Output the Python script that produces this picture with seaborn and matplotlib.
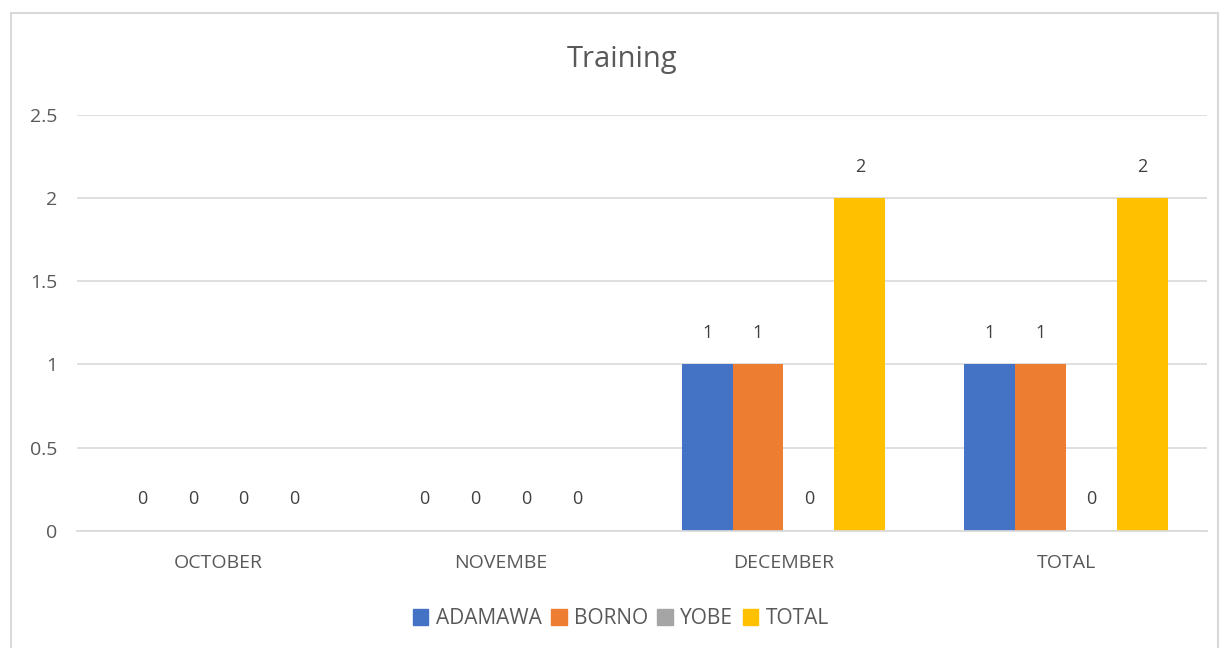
import pandas as pd
import matplotlib.pyplot as plt
import seaborn as sns
from matplotlib.patches import Rectangle

months = ["OCTOBER", "NOVEMBE", "DECEMBER", "TOTAL"]
states = ["ADAMAWA", "BORNO", "YOBE", "TOTAL"]
adamawa = [0, 0, 1, 1]
borno = [0, 0, 1, 1]
yobe = [0, 0, 0, 0]
total = [0, 0, 2, 2]
colors = ["#4472C4", "#ED7D31", "#A5A5A5", "#FFC000"]

rows = []
for state, vals in zip(states, [adamawa, borno, yobe, total]):
    for m, v in zip(months, vals):
        rows.append({"month": m, "state": state, "value": v})
df = pd.DataFrame(rows)

sns.set_theme(style="white")
plt.rcParams["font.family"] = ["Open Sans", "DejaVu Sans"]
text_color = "#595959"

fig = plt.figure(figsize=(12.22, 6.48), dpi=100)
ax = fig.add_axes([0.063, 0.181, 0.925, 0.642])

sns.barplot(data=df, x="month", y="value", hue="state", order=months,
            hue_order=states, palette=colors, width=0.72, saturation=1,
            linewidth=0, ax=ax, legend=False)

for c in ax.containers:
    ax.bar_label(c, fmt="%g", padding=16, fontsize=13, color="#404040")

ax.set_ylim(0, 2.5)
ax.set_yticks([0, 0.5, 1, 1.5, 2, 2.5])
ax.set_yticklabels(["0", "0.5", "1", "1.5", "2", "2.5"])
ax.yaxis.grid(True, color="#D9D9D9", linewidth=1.2)
ax.set_axisbelow(True)
for s in ["top", "right", "left"]:
    ax.spines[s].set_visible(False)
ax.spines["bottom"].set_color("#D9D9D9")
ax.tick_params(axis="both", length=0, labelsize=14, colors=text_color)
ax.tick_params(axis="y", pad=14)
ax.tick_params(axis="x", pad=17)
ax.set_xlabel("")
ax.set_ylabel("")

fig.text(0.509, 0.908, "Training", ha="center", va="center", fontsize=21,
         color=text_color)

handles = [Rectangle((0, 0), 1, 1, color=c) for c in colors]
fig.legend(handles, states, loc="center", bbox_to_anchor=(0.508, 0.045),
           ncol=4, frameon=False, fontsize=15, handlelength=0.75,
           handleheight=0.75, handletextpad=0.35, columnspacing=0.45,
           labelcolor=text_color)

fig.patches.append(Rectangle((0.009, -0.02), 0.988, 1.0, transform=fig.transFigure,
                             fill=False, edgecolor="#D9D9D9", linewidth=1.5))

fig.savefig("out.png", dpi=100)
